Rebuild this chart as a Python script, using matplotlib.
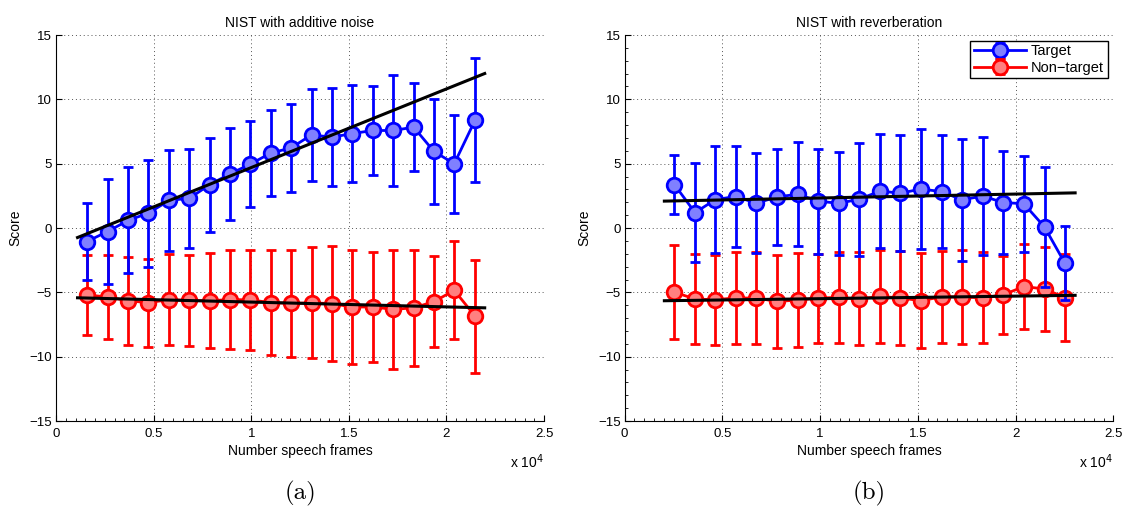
import numpy as np
import matplotlib
matplotlib.use("Agg")
import matplotlib.pyplot as plt
from matplotlib.ticker import MultipleLocator, FuncFormatter

# ---- data ----
# (a) NIST with additive noise
frames_a = [1580, 2640, 3690, 4730, 5800, 6830, 7870, 8900, 9960, 11000,
            12030, 13090, 14130, 15170, 16230, 17280, 18320, 19360, 20400, 21460]
tar_mean_a = [-1.05, -0.27, 0.59, 1.16, 2.15, 2.31, 3.37, 4.2, 4.97, 5.83,
              6.22, 7.24, 7.06, 7.34, 7.58, 7.58, 7.84, 5.95, 5.0, 8.36]
tar_std_a = [3.02, 4.1, 4.12, 4.15, 3.95, 3.87, 3.66, 3.54, 3.34, 3.37,
             3.44, 3.6, 3.8, 3.79, 3.43, 4.28, 3.43, 4.1, 3.8, 4.82]
non_mean_a = [-5.2, -5.36, -5.65, -5.8, -5.56, -5.63, -5.65, -5.56, -5.58, -5.8,
              -5.85, -5.82, -5.87, -6.14, -6.13, -6.32, -6.2, -5.72, -4.84, -6.84]
non_std_a = [3.08, 3.27, 3.41, 3.43, 3.53, 3.55, 3.7, 3.84, 3.86, 4.1,
             4.17, 4.31, 4.44, 4.42, 4.26, 4.63, 4.5, 3.51, 3.8, 4.39]
tar_fit_a = [6.11e-4, -1.41]     # slope, intercept
non_fit_a = [-3.74e-5, -5.38]
fit_range_a = [1100, 21960]

# (b) NIST with reverberation
frames_b = [2540, 3600, 4640, 5680, 6740, 7790, 8850, 9910, 10950, 11990,
            13070, 14110, 15160, 16220, 17260, 18320, 19360, 20420, 21480, 22520]
tar_mean_b = [3.38, 1.2, 2.21, 2.45, 1.93, 2.42, 2.62, 2.09, 1.92, 2.24,
              2.87, 2.71, 3.03, 2.83, 2.19, 2.49, 1.98, 1.89, 0.08, -2.73]
tar_std_b = [2.3, 3.86, 4.14, 3.93, 3.9, 3.7, 4.05, 4.07, 3.98, 4.38,
             4.4, 4.53, 4.64, 4.42, 4.74, 4.55, 3.99, 3.74, 4.66, 2.89]
non_mean_b = [-4.98, -5.52, -5.57, -5.43, -5.45, -5.7, -5.6, -5.44, -5.39, -5.5,
              -5.32, -5.43, -5.65, -5.34, -5.36, -5.42, -5.19, -4.55, -4.73, -5.4]
non_std_b = [3.65, 3.49, 3.49, 3.58, 3.55, 3.62, 3.65, 3.46, 3.54, 3.6,
             3.58, 3.63, 3.7, 3.57, 3.62, 3.52, 3.05, 3.3, 3.27, 3.4]
tar_fit_b = [3.05e-5, 2.03]
non_fit_b = [2.0e-5, -5.69]
fit_range_b = [2030, 23045]

titles = ["NIST with additive noise", "NIST with reverberation"]
panel_labels = ["(a)", "(b)"]

plt.rcParams['font.family'] = ['Liberation Sans', 'DejaVu Sans']

fig = plt.figure(figsize=(11.28, 5.11), dpi=100)
ax_a = fig.add_axes([0.0497, 0.176, 0.4326, 0.7555])
ax_b = fig.add_axes([0.5538, 0.176, 0.4332, 0.7555])

panels = [
    (ax_a, frames_a, tar_mean_a, tar_std_a, non_mean_a, non_std_a, tar_fit_a, non_fit_a, fit_range_a),
    (ax_b, frames_b, tar_mean_b, tar_std_b, non_mean_b, non_std_b, tar_fit_b, non_fit_b, fit_range_b),
]

for k, (ax, fr, tm, ts, nm, ns, tf, nf, rng) in enumerate(panels):
    eb_non = ax.errorbar(fr, nm, yerr=ns, color='#ff0000', lw=2, marker='o', ms=10.5,
                         mfc='#ff8080', mec='#ff0000', mew=2, capsize=3.5, capthick=2,
                         elinewidth=2, label='Non\u2212target', zorder=3)
    eb_tar = ax.errorbar(fr, tm, yerr=ts, color='#0000ff', lw=2, marker='o', ms=10.5,
                         mfc='#8080ff', mec='#0000ff', mew=2, capsize=3.5, capthick=2,
                         elinewidth=2, label='Target', zorder=4)
    xs = np.array(rng)
    ax.plot(xs, np.polyval(tf, xs), color='black', lw=2.2, zorder=5)
    ax.plot(xs, np.polyval(nf, xs), color='black', lw=2.2, zorder=5)

    ax.set_xlim(0, 25000)
    ax.set_ylim(-15, 15)
    ax.xaxis.set_major_locator(MultipleLocator(5000))
    ax.xaxis.set_minor_locator(MultipleLocator(500))
    ax.yaxis.set_major_locator(MultipleLocator(5))
    if k == 1:
        ax.yaxis.set_minor_locator(MultipleLocator(1))
    ax.xaxis.set_major_formatter(FuncFormatter(lambda v, p: ('%g' % (v / 1e4))))
    ax.yaxis.set_major_formatter(FuncFormatter(lambda v, p: ('%d' % v).replace('-', '\u2212')))
    ax.tick_params(which='both', direction='in', labelsize=9.5, top=False, right=False)
    ax.tick_params(axis='x', pad=5)
    ax.tick_params(axis='y', pad=3)
    ax.tick_params(which='major', length=4, width=0.8)
    ax.tick_params(which='minor', length=2, width=0.6)
    ax.grid(True, which='major', linestyle=(0, (1, 3)), color='#555555', lw=0.7)
    ax.spines['top'].set_visible(False)
    ax.spines['right'].set_visible(False)
    ax.set_axisbelow(True)

    ax.set_title(titles[k], fontsize=10, pad=6)
    ax.set_xlabel('Number speech frames', fontsize=10, labelpad=3)
    ax.set_ylabel('Score', fontsize=10, labelpad=5)
    ax.text(1.0, -0.08, 'x 10$^4$', transform=ax.transAxes, fontsize=10,
            ha='right', va='top')
    ax.text(0.5, -0.155, panel_labels[k], transform=ax.transAxes, fontsize=18,
            family='cmr10', ha='center', va='top')

    if k == 1:
        leg = ax.legend([eb_tar, eb_non], ['Target', 'Non\u2212target'], loc='upper right',
                        fontsize=10.5, fancybox=False, framealpha=1, edgecolor='black',
                        borderpad=0.25, handlelength=3.6, handletextpad=0.3,
                        labelspacing=0.15, borderaxespad=0.4)
        leg.get_frame().set_linewidth(1.0)

fig.savefig('out.png', dpi=100)
